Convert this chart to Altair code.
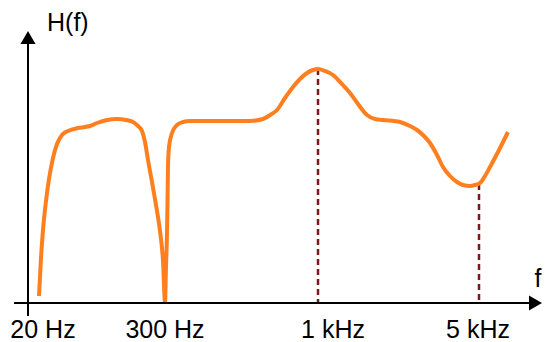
import altair as alt
import pandas as pd

# Schematic frequency response: horizontal position (px-like units) and height above the f axis
curve_x = [39, 41, 43, 46, 49, 53, 57, 62, 68, 78, 85, 90, 97, 107, 117, 126, 133, 138, 142,
           145, 148, 152, 156, 160, 163, 165, 166, 167, 167.5, 168, 169, 172, 177, 183, 190,
           197, 210, 220, 250, 263, 270, 277, 285, 293, 300, 307, 313, 318, 325, 333, 341, 350, 358,
           367, 375, 383, 400, 410, 417, 424, 430, 437, 443, 450, 457, 463, 470, 475, 480, 485, 490,
           498, 508]
curve_h = [7, 45, 73, 102, 124, 145, 159, 168, 172, 175, 176, 177, 180, 183, 184, 183, 181, 177, 172,
           161, 143, 121, 98, 72, 42, 1, 36, 70, 100, 136, 156, 170, 178, 181, 182,
           182, 182, 182, 182, 184, 188, 193, 205, 216, 224, 230, 233, 234, 232, 228, 220, 210, 199,
           188, 184, 183, 181, 177, 173, 167, 160, 148, 136, 127, 121, 118, 117, 118, 120, 127, 136,
           151, 171]

# Markers (dashed verticals) at 1 kHz peak and 5 kHz dip
marker_x = [318, 479]
marker_h = [234, 119]

# Tick labels
tick_labels = ["20 Hz", "300 Hz", "1 kHz", "5 kHz"]
tick_x = [43, 165, 333, 478]

XD = [8, 542]
YD = [-39, 295]


def X(f="x"):
    return alt.X(f"{f}:Q", scale=alt.Scale(domain=XD, nice=False, zero=False), axis=None)


def Y(f="y"):
    return alt.Y(f"{f}:Q", scale=alt.Scale(domain=YD, nice=False, zero=False), axis=None)


curve_df = pd.DataFrame({"x": curve_x, "y": curve_h})
curve = alt.Chart(curve_df).mark_line(
    color="#FF7F1E", strokeWidth=4, interpolate="monotone"
).encode(x=X(), y=Y())

mark_df = pd.DataFrame({"x": marker_x, "y": marker_h, "y2": [0, 0]})
markers = alt.Chart(mark_df).mark_rule(
    color="#7B1A1A", strokeWidth=2.5, strokeDash=[6, 4]
).encode(x=X(), y=Y(), y2="y2:Q")

xaxis_df = pd.DataFrame({"x": [14], "x2": [531], "y": [0]})
xaxis = alt.Chart(xaxis_df).mark_rule(color="black", strokeWidth=2).encode(
    x=X(), x2="x2:Q", y=Y())
yaxis_df = pd.DataFrame({"x": [28], "y": [-13], "y2": [260]})
yaxis = alt.Chart(yaxis_df).mark_rule(color="black", strokeWidth=2).encode(
    x=X(), y=Y(), y2="y2:Q")

xarrow = alt.Chart(pd.DataFrame({"x": [535.5], "y": [0]})).mark_point(
    shape="M-0.87,-1L0.87,0L-0.87,1Z", size=225, filled=True, color="black", opacity=1
).encode(x=X(), y=Y())
yarrow = alt.Chart(pd.DataFrame({"x": [28], "y": [265.5]})).mark_point(
    shape="M-1,0.87L0,-0.87L1,0.87Z", size=225, filled=True, color="black", opacity=1
).encode(x=X(), y=Y())

ticks_df = pd.DataFrame({"x": tick_x, "y": [-35] * 4, "t": tick_labels})
ticks = alt.Chart(ticks_df).mark_text(
    font="Liberation Sans", fontSize=25, align="center", baseline="alphabetic", color="black"
).encode(x=X(), y=Y(), text="t:N")

hf_df = pd.DataFrame({"x": [47], "y": [272], "t": ["H(f)"]})
hf = alt.Chart(hf_df).mark_text(
    font="Liberation Sans", fontSize=25, align="left", baseline="alphabetic", color="black"
).encode(x=X(), y=Y(), text="t:N")
f_df = pd.DataFrame({"x": [538], "y": [16], "t": ["f"]})
fl = alt.Chart(f_df).mark_text(
    font="Liberation Sans", fontSize=25, align="center", baseline="alphabetic", color="black"
).encode(x=X(), y=Y(), text="t:N")

chart = alt.layer(markers, curve, xaxis, yaxis, xarrow, yarrow, ticks, hf, fl).properties(
    width=534, height=334, padding=0, background="white",
    autosize=alt.AutoSizeParams(type="none")
).configure_view(strokeWidth=0)

chart.save("out.html", embed_options={"renderer": "svg", "actions": False})
